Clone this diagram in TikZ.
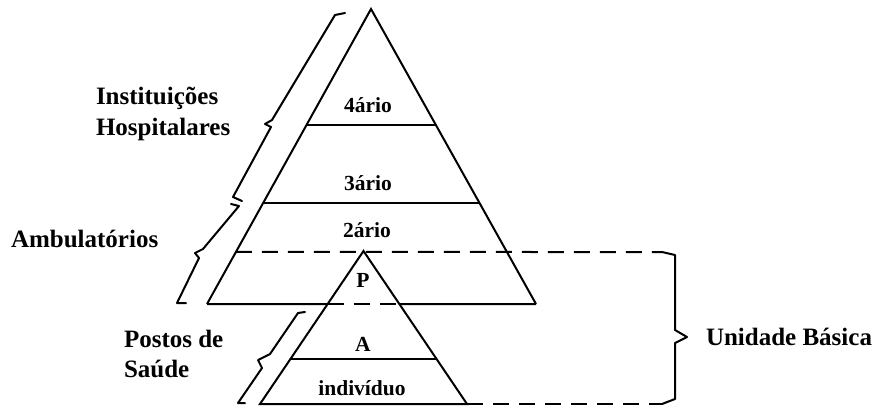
\documentclass[tikz,border=0pt]{standalone}
\usepackage{fontspec}
\setmainfont{Liberation Serif}
\usetikzlibrary{calc}
\begin{document}
\begin{tikzpicture}[x=1pt,y=-1pt,line width=2pt,
  outerlabel/.style={font=\fontsize{25}{30}\selectfont\bfseries,inner sep=0pt},
  innerlabel/.style={font=\fontsize{21.5}{26}\selectfont\bfseries,inner sep=0pt},
  dline/.style={dash pattern=on 16pt off 10pt},
  bracestroke/.style={line join=round,line cap=round}]
\useasboundingbox (0,0) rectangle (874,409);
% big pyramid
\coordinate (A) at (371,9);
\coordinate (BL) at (207,304);
\coordinate (BR) at (536,304);
% small pyramid
\coordinate (a) at (363.5,251);
\coordinate (bl) at (260,404);
\coordinate (br) at (467,404);
% crossing points
\coordinate (l1L) at ($(A)!0.3932!(BL)$);
\coordinate (l1R) at ($(A)!0.3932!(BR)$);
\coordinate (l2L) at ($(A)!0.6576!(BL)$);
\coordinate (l2R) at ($(A)!0.6576!(BR)$);
\coordinate (l3L) at ($(A)!0.8237!(BL)$);
\coordinate (xl) at ($(a)!0.3464!(bl)$);
\coordinate (xr) at ($(a)!0.3464!(br)$);
\coordinate (sL) at ($(a)!0.7059!(bl)$);
\coordinate (sR) at ($(a)!0.7059!(br)$);
\coordinate (ubT) at (662,252);
\coordinate (ubB) at (662,404);

\draw[line join=miter] (BL) -- (A) -- (BR);
\draw (l1L) -- (l1R);
\draw (l2L) -- (l2R);
\draw[dline] (l3L) -- (ubT);
\draw (BL) -- (xl);
\draw[dline] (xl) -- (xr);
\draw (xr) -- (BR);

\draw[line join=miter] (bl) -- (a) -- (br) -- cycle;
\draw (sL) -- (sR);
\draw[dline] (br) -- (ubB);

% right brace
\draw[bracestroke] (ubT) -- (675,255) -- (675,330) -- (687,337) -- (675,343) -- (675,399) -- (ubB);

% left braces
\draw[bracestroke] (345,13) -- (335,15) -- (272,120) -- (265,124) -- (271,127) -- (233,197) -- (242,201);
\draw[bracestroke] (231,204) -- (239,206) -- (203,249) -- (195,253) -- (199,258) -- (177,303) -- (186,303);
\draw[bracestroke] (305,312) -- (298,313) -- (270,354) -- (258,360) -- (262,368) -- (238,403) -- (245,403);

% labels
\node[outerlabel,anchor=base west] (inst) at (95,105) {Instituições};
\node[outerlabel,anchor=base west] (hosp) at (95,135) {Hospitalares};
\node[outerlabel,anchor=base west] (amb) at (10,247) {Ambulatórios};
\node[outerlabel,anchor=base west] (post) at (123,347) {Postos de};
\node[outerlabel,anchor=base west] (saude) at (123,377) {Saúde};
\node[outerlabel,anchor=base west] (ub) at (705,345) {Unidade Básica};

\node[innerlabel,anchor=base] (q4) at (368,113) {4ário};
\node[innerlabel,anchor=base] (q3) at (368,190) {3ário};
\node[innerlabel,anchor=base] (q2) at (367,237) {2ário};
\node[innerlabel,anchor=base] (p) at (363,287) {P};
\node[innerlabel,anchor=base] (am) at (363,351) {A};
\node[innerlabel,anchor=base] (ind) at (362,395) {indivíduo};
\end{tikzpicture}
\end{document}
